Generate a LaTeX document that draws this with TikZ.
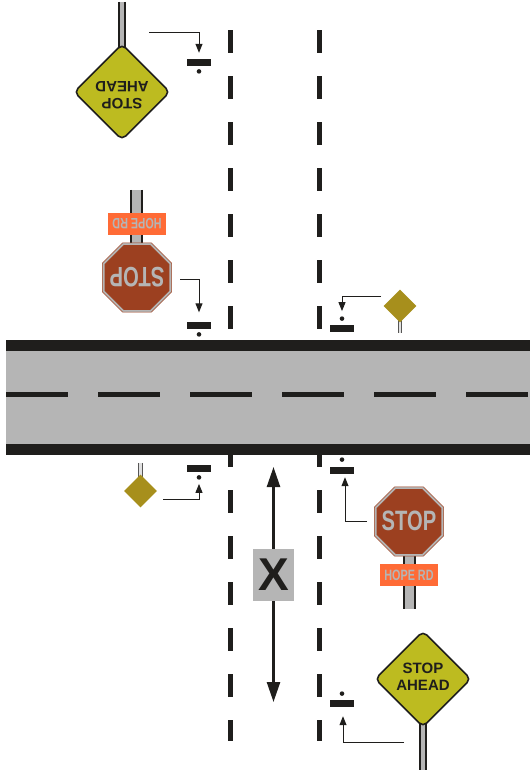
\documentclass[tikz,border=0pt]{standalone}
\usepackage{fontspec}
\setmainfont{Liberation Sans}
\newfontfamily\narrowfont[FakeStretch=0.72]{Liberation Sans}
\usetikzlibrary{positioning, shapes.geometric, arrows.meta}
\definecolor{asphalt}{HTML}{B5B5B5}
\definecolor{tarblack}{HTML}{1F1E1C}
\definecolor{signyellow}{HTML}{BDBB20}
\definecolor{signgold}{HTML}{A78F1C}
\definecolor{stopred}{HTML}{9C4020}
\definecolor{plateorange}{HTML}{FF6B36}

\begin{document}
\begin{tikzpicture}[
  x=1pt, y=-1pt,
  band/.style={rectangle, fill=tarblack, inner sep=0pt, minimum width=524pt, minimum height=11pt},
  roadbed/.style={rectangle, fill=asphalt, inner sep=0pt, minimum width=524pt, minimum height=115pt},
  stopbar/.style={rectangle, fill=tarblack, inner sep=0pt, minimum width=24pt, minimum height=7pt},
  stopdot/.style={circle, fill=tarblack, inner sep=0pt, minimum size=4.6pt},
  post/.style={rectangle, fill=asphalt, inner sep=0pt},
  thinpost/.style={rectangle, fill=asphalt!40, inner sep=0pt},
  postedge/.style={tarblack, line width=2.2pt},
  thinedge/.style={tarblack!75, line width=1pt},
  bigdiamond/.style={diamond, draw=tarblack, line width=1.6pt, fill=signyellow, rounded corners=5pt, inner sep=0pt, minimum size=96pt},
  aheadtext/.style={inner sep=0pt, align=center, font=\bfseries\fontsize{15}{16.5}\selectfont, text=tarblack},
  smalldiamond/.style={diamond, fill=signgold, inner sep=0pt, minimum size=33pt},
  stopouter/.style={regular polygon, regular polygon sides=8, draw=stopred, line width=0.6pt, fill=asphalt, inner sep=0pt, minimum size=75pt},
  stopinner/.style={regular polygon, regular polygon sides=8, fill=stopred, inner sep=0pt, minimum size=70pt},
  stoptext/.style={inner sep=0pt, text=asphalt, font=\narrowfont\bfseries\fontsize{28}{28}\selectfont},
  plate/.style={rectangle, fill=plateorange, inner sep=0pt, minimum width=58pt, minimum height=22pt, text=asphalt, font=\narrowfont\bfseries\fontsize{15}{15}\selectfont},
  pointer/.style={-{Triangle[length=9pt, width=7pt]}, tarblack, line width=1pt},
  dimarrow/.style={-{Triangle[length=20pt, width=13pt]}, tarblack, line width=2.5pt}
]
\useasboundingbox (0,0) rectangle (530,772);

% Side road dashes
\foreach \k in {0,...,15} {
  \fill[tarblack] (228,30+46*\k) rectangle (233,{min(30+46*\k+23,741)});
  \fill[tarblack] (317,30+46*\k) rectangle (322,{min(30+46*\k+23,741)});
}

% Main road
\node[roadbed] (road) at (268,397.5) {};
\node[band] (roadtop) at (268,345.5) {};
\node[band] (roadbot) at (268,449.5) {};
\foreach \k in {0,...,5} {
  \fill[tarblack] (6+92*\k,392) rectangle (67.5+92*\k,397);
}

% Posts
\node[post, minimum width=6pt, minimum height=48pt] (posta) at (122,26) {};
\node[post, minimum width=11pt, minimum height=56pt] (postb) at (136.5,218) {};
\node[thinpost, minimum width=3.5pt, minimum height=14pt] (postc) at (400,326) {};
\node[thinpost, minimum width=3.5pt, minimum height=14pt] (postd) at (140.5,470) {};
\node[post, minimum width=11pt, minimum height=56pt] (poste) at (409.5,581) {};
\node[post, minimum width=6pt, minimum height=48pt] (postf) at (423,746) {};
\foreach \p in {posta,postb,poste,postf} {
  \draw[postedge] (\p.north west) -- (\p.south west) (\p.north east) -- (\p.south east);
}
\foreach \p in {postc,postd} {
  \draw[thinedge] (\p.north west) -- (\p.south west) (\p.north east) -- (\p.south east);
}

% Signs
\node[bigdiamond] (aheadtop) at (122,92) {};
\node[aheadtext, rotate=180] (aheadtoptxt) at (122,95) {STOP\\AHEAD};
\node[bigdiamond] (aheadbot) at (423,679) {};
\node[aheadtext] (aheadbottxt) at (423,677) {STOP\\AHEAD};
\node[smalldiamond] (goldtop) at (400,306) {};
\node[smalldiamond] (goldbot) at (140.5,491) {};

\node[stopouter] (stoptopbg) at (137,277.5) {};
\node[stopinner] (stoptop) at (137,277.5) {};
\node[stoptext, rotate=180] (stoptoptxt) at (137,277.5) {STOP};
\node[plate, rotate=180] (platetop) at (137,224) {HOPE RD};
\node[stopouter] (stopbotbg) at (409,521.5) {};
\node[stopinner] (stopbot) at (409,521.5) {};
\node[stoptext] (stopbottxt) at (409,520.5) {STOP};
\node[plate] (platebot) at (409,575) {HOPE RD};

% Stop bars and dots
\node[stopbar] (bara) at (199,62.5) {};
\node[stopdot, below=2.7pt of bara] (dota) {};
\node[stopbar] (barb) at (199,325.5) {};
\node[stopdot, below=2.7pt of barb] (dotb) {};
\node[stopbar] (barc) at (342,328.5) {};
\node[stopdot, above=3.7pt of barc] (dotc) {};
\node[stopbar] (bard) at (199,468.5) {};
\node[stopdot, below=2.7pt of bard] (dotd) {};
\node[stopbar] (bare) at (342,470.5) {};
\node[stopdot, above=4.7pt of bare] (dote) {};
\node[stopbar] (barf) at (342,703.5) {};
\node[stopdot, above=3.7pt of barf] (dotf) {};

% Leaders
\coordinate (leada) at (149,32);
\coordinate (leadb) at (180,279);
\coordinate (leadc) at (381,296);
\coordinate (leadd) at (163,499);
\coordinate (leade) at (367,521);
\coordinate (leadf) at (404,742);
\draw[pointer, shorten >=6pt] (leada) -| (bara.north);
\draw[pointer, shorten >=9.5pt] (leadb) -| (barb.north);
\draw[pointer, shorten >=5pt] (leadc) -| (dotc.north);
\draw[pointer, shorten >=4pt] (leadd) -| (dotd.south);
\draw[pointer, shorten >=3pt] (leade) -| ([xshift=3pt]bare.south);
\draw[pointer, shorten >=9pt] (leadf) -| ([xshift=1pt]barf.south);

% Distance X
\node[rectangle, fill=asphalt, inner sep=0pt, minimum width=41pt, minimum height=52pt, text=tarblack, font=\bfseries\fontsize{46}{46}\selectfont] (xbox) at (273.5,575) {X};
\coordinate (xtop) at (273.5,467);
\coordinate (xbot) at (273.5,702);
\draw[dimarrow] (xbox.north) -- (xtop);
\draw[dimarrow] (xbox.south) -- (xbot);

\end{tikzpicture}
\end{document}
